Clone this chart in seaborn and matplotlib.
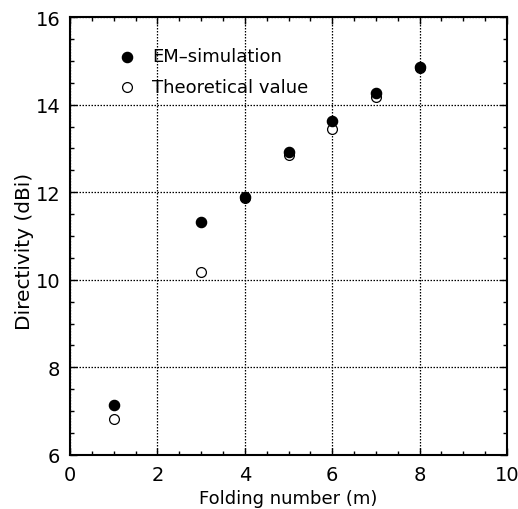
import matplotlib
matplotlib.use("Agg")
import matplotlib.pyplot as plt
import seaborn as sns
import pandas as pd
from matplotlib.ticker import MultipleLocator

folding = [1, 3, 4, 5, 6, 7, 8]
em_sim = [7.14, 11.33, 11.88, 12.91, 13.62, 14.27, 14.86]
theory = [6.82, 10.18, 11.87, 12.85, 13.45, 14.18, 14.84]

sns.set_style("ticks")
plt.rcParams['font.family'] = ['DejaVu Sans', 'Noto Sans CJK JP']
plt.rcParams['text.color'] = 'black'
plt.rcParams['axes.labelcolor'] = 'black'
plt.rcParams['xtick.color'] = 'black'
plt.rcParams['ytick.color'] = 'black'

fig = plt.figure(figsize=(5.18, 5.10), dpi=100)
ax = fig.add_axes([0.1351, 0.1059, 0.8437, 0.8588])

df_em = pd.DataFrame({"m": folding, "d": em_sim})
df_th = pd.DataFrame({"m": folding, "d": theory})

sns.scatterplot(data=df_th, x="m", y="d", ax=ax, marker="o", s=50,
                facecolor="white", edgecolor="black", linewidth=0.9,
                label="Theoretical value", zorder=3)
sns.scatterplot(data=df_em, x="m", y="d", ax=ax, marker="o", s=55,
                color="black", edgecolor="black", linewidth=0.9,
                label="EM\u2013simulation", zorder=4)

ax.set_xlim(0, 10)
ax.set_ylim(6, 16)
ax.xaxis.set_major_locator(MultipleLocator(2))
ax.xaxis.set_minor_locator(MultipleLocator(0.5))
ax.yaxis.set_major_locator(MultipleLocator(2))
ax.yaxis.set_minor_locator(MultipleLocator(0.5))
ax.tick_params(which="both", direction="in", top=True, right=True,
               colors="black", labelcolor="black")
ax.tick_params(which="major", length=5, width=1, labelsize=14, pad=7)
ax.tick_params(which="minor", length=3, width=1)
ax.grid(True, which="major", linestyle=(0, (1.2, 1.2)), color="black", linewidth=0.9)
for s in ax.spines.values():
    s.set_linewidth(1.5)
    s.set_color("black")

ax.set_xlabel("Folding number (m)", fontsize=13, labelpad=4, color="black")
ax.set_ylabel("Directivity (dBi)", fontsize=14.5, color="black")
ax.yaxis.set_label_coords(-0.083, 0.468)

handles, labels = ax.get_legend_handles_labels()
leg = ax.legend(handles[::-1], labels[::-1], loc="upper left", frameon=False,
                fontsize=13, bbox_to_anchor=(0.052, 0.968), handletextpad=0.4,
                labelspacing=0.7, markerscale=1.0, borderpad=0.4)
for t in leg.get_texts():
    t.set_color("black")

fig.savefig("out.png", dpi=100)
